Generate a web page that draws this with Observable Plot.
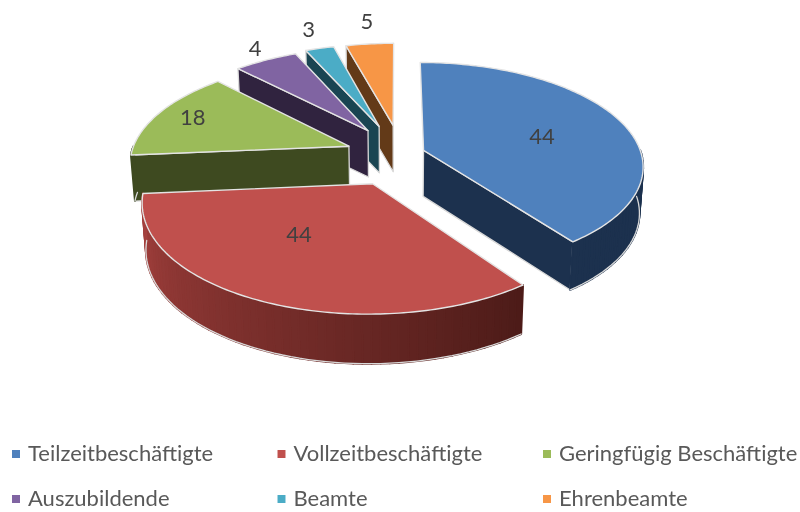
<!DOCTYPE html>
<html><head><meta charset="utf-8">
<style>html,body{margin:0;padding:0;background:#fff}svg{display:block;filter:blur(0.4px)}</style>
<script src="https://cdn.jsdelivr.net/npm/d3@7"></script>
<script src="https://cdn.jsdelivr.net/npm/@observablehq/plot@0.6"></script>
</head><body><div id="c"></div>
<script>
const categories = ["Teilzeitbeschäftigte","Vollzeitbeschäftigte","Geringfügig Beschäftigte","Auszubildende","Beamte","Ehrenbeamte"];
const labelValues = [44,44,18,4,3,5];
// angular sweep of each slice as it is drawn in the picture (degrees)
const sliceSweep = [143.5,121.5,51,20,9,15];
const topColors = ["#4f81bd","#c0504d","#9bbb59","#8064a2","#4bacc6","#f79646"];
const wallFar = ["#1c314e","#4c1b18","#3e4a20","#30233f","#1a4552","#633a18"];
const wallNear = ["#1c314e","#a5413e","#3e4a20","#30233f","#1a4552","#633a18"];
const explode = [0.127,0.297,0.24,0.28,0.3,0.3];
const explodeHeading = [71,201.7,290,330,343,356];
const labelRadius = [0.576,0.525,0.82,1.163,1.275,1.31];
const labelShift = [4.8,10,0.5,1.2,0.8,0.8];
const paintOrder = [5,4,3,2,0,1];

// view of the tilted pie
const view = {cx:397, cy:154, B:218, A:101.8, p:0.146, H:46, nearDepth:0.09, shrink:0.015};
const rad = d => d*Math.PI/180;
function project(X,Y,Z=0){
  const den = 1+view.p*Y, s = 1-view.shrink*Z;
  return {x:view.cx+view.B*X/den*s, y:view.cy-view.A*Y/den*s+view.H*Z/(1+view.nearDepth*Math.min(Y,0))};
}
let acc=0;
const slices = sliceSweep.map((s,i)=>{
  const a0=acc,a1=acc+s; acc=a1; const mid=(a0+a1)/2, h=rad(explodeHeading[i]);
  return {i,a0,a1,mid,ox:explode[i]*Math.sin(h),oy:explode[i]*Math.cos(h)};
});
const rim=(sl,t,z)=>project(sl.ox+Math.sin(rad(t)),sl.oy+Math.cos(rad(t)),z);
const apex=(sl,z)=>project(sl.ox,sl.oy,z);
const edge="#d9d9d9";
const polys=[];
let id=0;
function poly(pts,fill,stroke,sw){const k=id++;pts.forEach(p=>polys.push({...p,k,fill,stroke,sw}));}
for(const i of paintOrder){
  const sl=slices[i];
  // visible radial walls
  const side=t=>[apex(sl,0),rim(sl,t,0),rim(sl,t,1),apex(sl,1)];
  if(Math.sin(rad(sl.a0))<-1e-6) poly(side(sl.a0),wallFar[i],edge,1.3);
  if(Math.sin(rad(sl.a1))>1e-6) poly(side(sl.a1),wallFar[i],edge,1.3);
  // outer curved wall, facing the viewer
  const from=Math.max(sl.a0,90), to=Math.min(sl.a1,270);
  if(to>from){
    const n=Math.ceil((to-from)/2), ts=d3.range(n+1).map(j=>from+(to-from)*j/n);
    const col=d3.interpolateRgb(wallFar[i],wallNear[i]);
    for(let j=0;j<n;j++){
      const c=col((j+.5)/n);
      poly([rim(sl,ts[j],0),rim(sl,ts[j+1],0),rim(sl,ts[j+1],1),rim(sl,ts[j],1)],c,c,2);
    }
    poly(ts.map(t=>rim(sl,t,1)).concat([...ts].reverse().map(t=>rim(sl,t,1))),"none",edge,1.3);
  }
  // top face
  const n=Math.ceil(sl.a1-sl.a0);
  const top=[apex(sl,0),...d3.range(n+1).map(j=>rim(sl,sl.a0+(sl.a1-sl.a0)*j/n,0))];
  poly(top,topColors[i],"#e4e4e4",1.4);
}
const labels=slices.map(sl=>{
  const t=rad(sl.mid+labelShift[sl.i]), r=labelRadius[sl.i];
  return {...project(sl.ox+r*Math.sin(t),sl.oy+r*Math.cos(t)),v:labelValues[sl.i]};
});
// legend: three columns on two rows
const legendCol=[15.5,281,546.5], legendRow=[453.5,498.5], legendGap=12;
const legend=categories.map((c,i)=>({c,color:topColors[i],x:legendCol[i%3],y:legendRow[Math.floor(i/3)]}));
const font="Lato, 'Open Sans', sans-serif";
const chart=Plot.plot({
  width:800,height:512,margin:0,
  x:{domain:[0,800],range:[0,800],axis:null},
  y:{domain:[0,512],range:[0,512],axis:null},
  color:{type:"identity"},
  style:{fontFamily:font,background:"#fff"},
  marks:[
    Plot.line(polys,{x:"x",y:"y",z:"k",fill:"fill",stroke:"stroke",strokeWidth:"sw",curve:"linear-closed",strokeLinejoin:"round"}),
    Plot.text(labels,{x:"x",y:"y",text:d=>String(d.v),fill:"#404040",fontSize:22,textAnchor:"middle",lineAnchor:"middle"}),
    Plot.dot(legend,{x:"x",y:"y",symbol:"square",r:4.5,fill:"color",stroke:"none"}),
    Plot.text(legend,{x:d=>d.x+legendGap,y:"y",text:"c",fill:"#595959",fontSize:22,textAnchor:"start",lineAnchor:"middle"})
  ]
});
document.getElementById("c").append(chart);
</script></body></html>
